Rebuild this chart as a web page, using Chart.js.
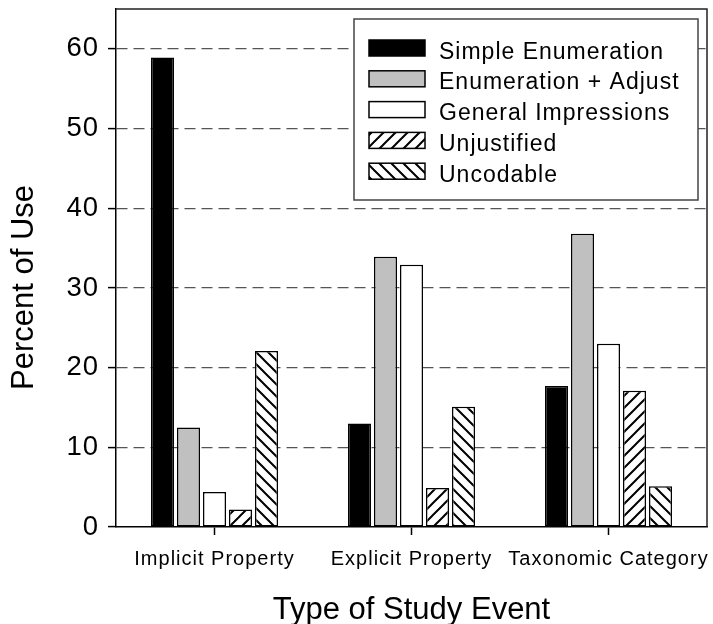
<!DOCTYPE html>
<html lang="en">
<head>
  <meta charset="UTF-8">
  <title>Percent of Use by Type of Study Event</title>
  <script src="https://cdn.jsdelivr.net/npm/chart.js"></script>
  <style>
    html, body { margin: 0; padding: 0; background: #fff; }
    canvas { display: block; }
  </style>
</head>
<body>
  <canvas id="useChart" width="713" height="624"></canvas>
  <script>
    // values
    const categories = ['Implicit Property', 'Explicit Property', 'Taxonomic Category'];
    const seriesNames = ['Simple Enumeration', 'Enumeration + Adjust', 'General Impressions', 'Unjustified', 'Uncodable'];
    const simpleEnumeration = [58.9, 13.0, 17.7];
    const enumerationAdjust = [12.5, 33.9, 36.8];
    const generalImpressions = [4.4, 32.9, 23.0];
    const unjustified = [2.2, 4.9, 17.1];
    const uncodable = [22.1, 15.1, 5.1];
    const yTicks = [0, 10, 20, 30, 40, 50, 60];

    const FONT = '"Liberation Sans", Arial, Helvetica, sans-serif';

    // diagonal hatch fill, '/' or '\'
    function hatch(dir) {
      const size = 12;
      const c = document.createElement('canvas');
      c.width = size;
      c.height = size;
      const g = c.getContext('2d');
      g.fillStyle = '#fff';
      g.fillRect(0, 0, size, size);
      g.strokeStyle = '#000';
      g.lineWidth = 2;
      g.beginPath();
      if (dir === '/') {
        g.moveTo(-3, size + 3); g.lineTo(size + 3, -3);
        g.moveTo(-3, 3); g.lineTo(3, -3);
        g.moveTo(size - 3, size + 3); g.lineTo(size + 3, size - 3);
      } else {
        g.moveTo(-3, -3); g.lineTo(size + 3, size + 3);
        g.moveTo(-3, size - 3); g.lineTo(3, size + 3);
        g.moveTo(size - 3, -3); g.lineTo(size + 3, 3);
      }
      g.stroke();
      return g.createPattern(c, 'repeat');
    }

    const fills = ['#000', '#c0c0c0', '#fff', hatch('/'), hatch('\\')];
    const seriesData = [simpleEnumeration, enumerationAdjust, generalImpressions, unjustified, uncodable];

    // frame, boxed legend and axis titles
    const decorations = {
      id: 'decorations',
      beforeDraw(chart) {
        chart.ctx.letterSpacing = '1px';
      },
      afterDraw(chart) {
        const { ctx, chartArea: a } = chart;
        ctx.save();
        ctx.strokeStyle = '#222';
        ctx.lineWidth = 1.5;
        ctx.beginPath();
        ctx.moveTo(a.left, a.top);
        ctx.lineTo(a.right, a.top);
        ctx.lineTo(a.right, a.bottom);
        ctx.stroke();

        const lx = 354, ly = 19, lw = 344, lh = 181;
        ctx.fillStyle = '#fff';
        ctx.fillRect(lx, ly, lw, lh);
        ctx.strokeStyle = '#444';
        ctx.strokeRect(lx, ly, lw, lh);

        ctx.font = '23px ' + FONT;
        ctx.letterSpacing = '1px';
        ctx.textAlign = 'left';
        ctx.textBaseline = 'alphabetic';
        chart.data.datasets.forEach((ds, i) => {
          const top = 40 + i * 30.8;
          ctx.fillStyle = ds.backgroundColor;
          ctx.fillRect(369, top, 56, 16);
          ctx.strokeStyle = '#000';
          ctx.strokeRect(369, top, 56, 16);
          ctx.fillStyle = '#000';
          ctx.fillText(ds.label, 439, top + 18.5);
        });

        ctx.letterSpacing = '0px';
        ctx.font = '31px ' + FONT;
        ctx.textAlign = 'center';
        ctx.fillText('Type of Study Event', (a.left + a.right) / 2, 619);
        ctx.translate(33, 287.5);
        ctx.rotate(-Math.PI / 2);
        ctx.fillText('Percent of Use', 0, 0);
        ctx.restore();
      }
    };

    const ctx = document.getElementById('useChart').getContext('2d');
    new Chart(ctx, {
      type: 'bar',
      data: {
        labels: categories,
        datasets: seriesNames.map((name, i) => ({
          label: name,
          data: seriesData[i],
          backgroundColor: fills[i],
          borderColor: '#000',
          borderWidth: 1.5,
          borderSkipped: false,
          categoryPercentage: 0.66,
          barPercentage: 0.885
        }))
      },
      options: {
        responsive: false,
        animation: false,
        layout: { padding: { top: 9, right: 6, left: 0, bottom: 0 } },
        plugins: {
          legend: { display: false },
          tooltip: { enabled: false }
        },
        scales: {
          x: {
            grid: { offset: false, drawOnChartArea: false, tickLength: 8, tickColor: '#000', tickWidth: 1.5 },
            border: { color: '#000', width: 1.5 },
            ticks: { color: '#000', font: { family: FONT, size: 20 }, padding: 12, maxRotation: 0, autoSkip: false },
            afterFit(scale) {
              scale.height = 97;
              scale.paddingLeft = 0;
              scale.paddingRight = 0;
            }
          },
          y: {
            min: 0,
            max: 65,
            afterBuildTicks(scale) {
              scale.ticks = yTicks.map(v => ({ value: v }));
            },
            ticks: { color: '#000', font: { family: FONT, size: 27.5 }, padding: 9 },
            grid: {
              color: c => (c.tick && c.tick.value === 0 ? 'rgba(0,0,0,0)' : '#555'),
              lineWidth: 1.2,
              tickLength: 8,
              tickColor: '#000',
              tickWidth: 1.5,
              tickBorderDash: []
            },
            border: { color: '#000', width: 1.5, dash: [11, 6] },
            afterFit(scale) {
              scale.width = 116;
              scale.paddingTop = 0;
              scale.paddingBottom = 0;
            }
          }
        }
      },
      plugins: [decorations]
    });
  </script>
</body>
</html>
